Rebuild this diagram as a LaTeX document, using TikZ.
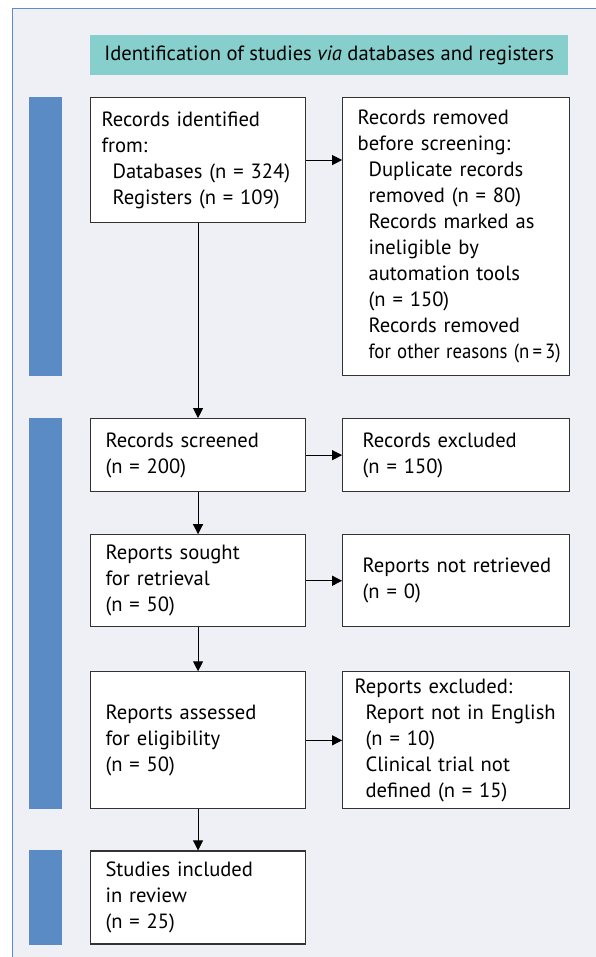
\documentclass[tikz,border=0pt]{standalone}
\usepackage{fontspec}
\usepackage{graphicx}
\setmainfont{PT Sans}
\usetikzlibrary{positioning}
\usetikzlibrary{arrows.meta}

\definecolor{panelgray}{HTML}{EFF0F6}
\definecolor{frameblue}{HTML}{5B8BD0}
\definecolor{phaseblue}{HTML}{5B8BC5}
\definecolor{headteal}{HTML}{86CFCC}

\begin{document}
\begin{tikzpicture}[x=1pt, y=1pt,
		node distance = 36pt,
		every node/.style={font=\fontsize{20.6}{26}\selectfont},
		box/.style={draw=black!80, line width=1.1pt, fill=white,
			align=left, anchor=north west, inner ysep=0pt},
		head/.style={fill=headteal, anchor=north west,
			minimum width=478pt, minimum height=40pt},
		flow/.style={-{Triangle[length=10pt,width=10pt]}, line width=0.9pt}]
		\useasboundingbox (0,0) rectangle (596,-957);
		\fill[panelgray] (12,-9) rectangle (596,-957);
		\draw[frameblue, line width=1pt] (12,-957) -- (12,-9) -- (596,-9);

		\node [head] (title) at (90,-35) {Identification of studies \emph{via} databases and registers};

		\node [box, inner xsep=11pt, text width=193pt, minimum height=125pt] (ident) at (90,-97)
			{Records identified\\from:\\\hspace*{11pt}Databases (n = 324)\\\hspace*{11pt}Registers (n = 109)};
		\node [box, inner xsep=15pt, text width=197pt, minimum height=278pt,
			right=36pt of ident.north east, anchor=north west] (removed)
			{Records removed\\before screening:\\
			\hspace*{11pt}Duplicate records\\\hspace*{11pt}removed (n = 80)\\
			\hspace*{11pt}Records marked as\\\hspace*{11pt}ineligible by\\
			\hspace*{11pt}automation tools\\\hspace*{11pt}(n = 150)\\
			\hspace*{11pt}Records removed\\\hspace*{11pt}\resizebox{192pt}{\height}{for other reasons (n\,=\,3)}};
		\node [box, inner xsep=15pt, text width=185pt, minimum height=73pt,
			below=195pt of ident.south west, anchor=north west] (screened)
			{Records screened\\(n = 200)};
		\node [box, inner xsep=20pt, text width=187pt, minimum height=73pt,
			right=36pt of screened.north east, anchor=north west] (excluded)
			{Records excluded\\(n = 150)};
		\node [box, inner xsep=15pt, text width=185pt, minimum height=92pt,
			below=42pt of screened.south west, anchor=north west] (sought)
			{Reports sought\\for retrieval\\(n = 50)};
		\node [box, inner xsep=20pt, text width=187pt, minimum height=92pt,
			right=36pt of sought.north east, anchor=north west] (notretrieved)
			{\mbox{Reports not retrieved}\\(n = 0)};
		\node [box, inner xsep=15pt, text width=185pt, minimum height=137pt,
			below=44pt of sought.south west, anchor=north west] (assessed)
			{Reports assessed\\for eligibility\\(n = 50)};
		\node [box, inner xsep=12pt, text width=203pt, minimum height=137pt,
			right=36pt of assessed.north east, anchor=north west] (repexcluded)
			{Reports excluded:\\\hspace*{11pt}Report not in English\\\hspace*{11pt}(n = 10)\\
			\hspace*{11pt}Clinical trial not\\\hspace*{11pt}defined (n = 15)};
		\node [box, inner xsep=15pt, text width=185pt, minimum height=93pt,
			below=41pt of assessed.south west, anchor=north west] (included)
			{Studies included\\in review\\(n = 25)};

		% phase bars
		\coordinate (barL) at (29,0);
		\coordinate (barR) at (62,0);
		\fill[phaseblue] (barL |- ident.north) rectangle (barR |- removed.south);
		\fill[phaseblue] (barL |- screened.north) rectangle (barR |- assessed.south);
		\fill[phaseblue] (barL |- included.north) rectangle (barR |- included.south);

		\draw[flow] (ident.south) -- (screened.north);
		\draw[flow] (screened.south) -- (sought.north);
		\draw[flow] (sought.south) -- (assessed.north);
		\draw[flow] (assessed.south) -- (included.north);
		\draw[flow] (ident.east) -- (ident.east -| removed.west);
		\draw[flow] (screened.east) -- (screened.east -| excluded.west);
		\draw[flow] (sought.east) -- (sought.east -| notretrieved.west);
		\draw[flow] (assessed.east) -- (assessed.east -| repexcluded.west);
\end{tikzpicture}
\end{document}
